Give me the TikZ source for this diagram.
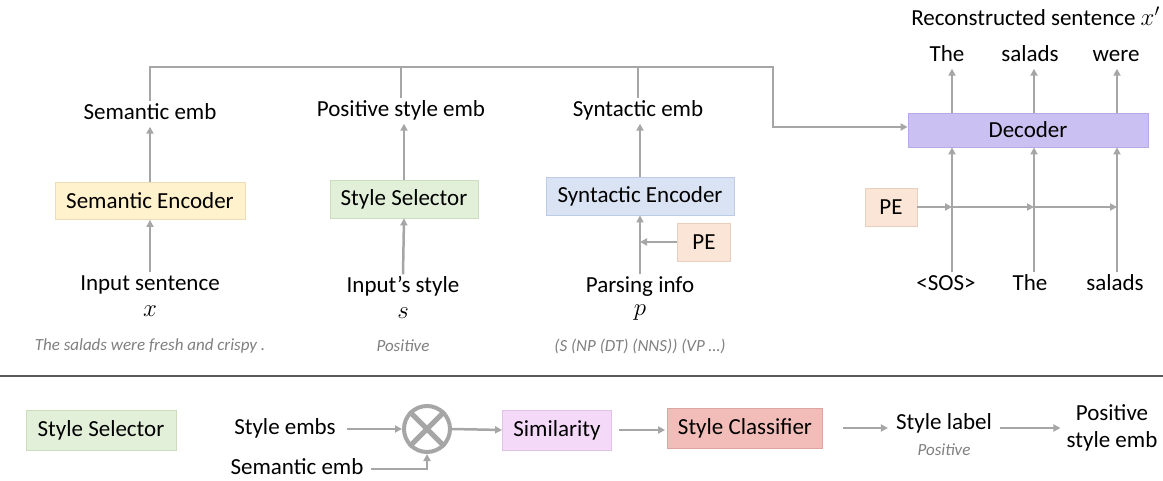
\documentclass[tikz,border=0pt]{standalone}
\usepackage{fontspec}
\setmainfont{Carlito}
\usetikzlibrary{arrows.meta}
\definecolor{ln}{HTML}{A6A6A6}
\definecolor{sep}{HTML}{595959}
\definecolor{gtxt}{HTML}{7F7F7F}
\definecolor{semF}{HTML}{FFF2CC}\definecolor{semD}{HTML}{EADDB8}
\definecolor{selF}{HTML}{E2F0D9}\definecolor{selD}{HTML}{CADDBF}
\definecolor{synF}{HTML}{DAE3F3}\definecolor{synD}{HTML}{BCCBE6}
\definecolor{peF}{HTML}{FBE5D6}\definecolor{peD}{HTML}{E8CFBD}
\definecolor{decF}{HTML}{CBC0F2}\definecolor{decD}{HTML}{B6A9E6}
\definecolor{simF}{HTML}{F4DAF8}\definecolor{simD}{HTML}{E0C2E6}
\definecolor{clsF}{HTML}{F2BDB8}\definecolor{clsD}{HTML}{DDA5A0}
\tikzset{
  txt/.style={font=\fontsize{23}{27}\selectfont, inner sep=2pt, text height=16pt, text depth=5pt},
  mth/.style={font=\fontsize{27}{30}\selectfont, inner sep=2pt},
  gtext/.style={font=\fontsize{17}{20}\selectfont\itshape, text=gtxt, inner sep=2pt},
  box/.style={font=\fontsize{23}{27}\selectfont, inner sep=0pt, line width=0.8pt},
  line/.style={draw=ln, line width=2.5pt},
  arr/.style={line, -{Triangle[length=7pt,width=7pt]}},
}
\begin{document}
\begin{tikzpicture}[x=1pt,y=-1pt]
\useasboundingbox (0,0) rectangle (1163,481);
% ---- top: encoders
\node[box, fill=semF, draw=semD, minimum width=190pt, minimum height=37pt] (semenc) at (150,201) {Semantic Encoder};
\node[box, fill=selF, draw=selD, minimum width=148pt, minimum height=38pt] (sel) at (404,199) {Style Selector};
\node[box, fill=synF, draw=synD, minimum width=188pt, minimum height=38pt] (synenc) at (640,196) {Syntactic Encoder};
\node[box, fill=peF, draw=peD, minimum width=53pt, minimum height=38pt] (pe1) at (704,242) {PE};

\node[txt] (sememb) at (150,114) {Semantic emb};
\node[txt] (posemb) at (401,111) {Positive style emb};
\node[txt] (synemb) at (638,111) {Syntactic emb};

\node[txt] (inp) at (150,285) {Input sentence};
\node[mth] (xv) at (150,311) {$x$};
\node[gtext] (xex) at (150,346) {The salads were fresh and crispy .};
\node[txt] (ist) at (403,287) {Input’s style};
\node[mth] (sv) at (403,313) {$s$};
\node[gtext] (sex) at (403,346) {Positive};
\node[txt] (par) at (640,287) {Parsing info};
\node[mth] (pv) at (640,313) {$p$};
\node[gtext] (pex) at (640,346) {(S (NP (DT) (NNS)) (VP …)};

\draw[arr] (inp.north) -- (semenc.south);
\draw[arr] (semenc.north) -- (sememb.south);
\draw[arr] (ist.north) -- (sel.south);
\draw[arr] (sel.north) -- (posemb.south -| sel.north);
\draw[arr] (par.north) -- (synenc.south);
\draw[arr] (synenc.north) -- (synemb.south -| synenc.north);
\draw[arr] (pe1.west) -- (synenc.south |- pe1.west);

% ---- decoder
\node[box, fill=decF, draw=decD, minimum width=240pt, minimum height=34pt] (dec) at (1028,130) {Decoder};
\coordinate (c1) at (952,0);
\coordinate (c2) at (1034,0);
\coordinate (c3) at (1117,0);
\coordinate (busL) at (150,67);
\coordinate (busR) at (773,67);
\coordinate (busD) at (773,127);
\draw[arr] (sememb.north) -- (busL) -- (busR) -- (busD) -- (dec.west |- busD);
\draw[line] (posemb.north) -- (posemb.north |- busL);
\draw[line] (synemb.north) -- (synemb.north |- busL);

\node[txt, anchor=east] (rec) at (1162,20) {Reconstructed sentence {\fontsize{25}{28}\selectfont$x'$}};
\node[txt] (o1) at (947,56) {The};
\node[txt] (o2) at (1030,56) {salads};
\node[txt] (o3) at (1116,56) {were};
\draw[arr] (dec.north -| c1) -- (o1.south -| c1);
\draw[arr] (dec.north -| c2) -- (o2.south -| c2);
\draw[arr] (dec.north -| c3) -- (o3.south -| c3);

\node[txt] (i1) at (946,285) {\textless SOS\textgreater};
\node[txt] (i2) at (1030,285) {The};
\node[txt] (i3) at (1115,285) {salads};
\draw[arr] (i1.north -| c1) -- (dec.south -| c1);
\draw[arr] (i2.north -| c2) -- (dec.south -| c2);
\draw[arr] (i3.north -| c3) -- (dec.south -| c3);

\node[box, fill=peF, draw=peD, minimum width=52pt, minimum height=38pt] (pe2) at (891,207) {PE};
\draw[arr] (pe2.east) -- (c1 |- pe2.east);
\draw[arr] (c1 |- pe2.east) -- (c2 |- pe2.east);
\draw[arr] (c2 |- pe2.east) -- (c3 |- pe2.east);

% ---- separator
\draw[draw=sep, line width=1.5pt] (0,376) -- (1163,376);

% ---- bottom: style selector detail
\node[box, fill=selF, draw=selD, minimum width=150pt, minimum height=40pt] (sel2) at (101,430) {Style Selector};
\node[txt] (se) at (285,429) {Style embs};
\node[txt] (sme) at (297,469) {Semantic emb};
\node[circle, draw=ln, line width=4pt, minimum size=46pt, inner sep=0pt] (ot) at (427,429) {};
\draw[draw=ln, line width=5pt] (ot.north west) -- (ot.south east);
\draw[draw=ln, line width=5pt] (ot.north east) -- (ot.south west);
\draw[arr, shorten <=9pt] (se.east) -- (ot.west);
\draw[arr, shorten <=5pt] (sme.east) -| (ot.south);
\node[box, fill=simF, draw=simD, minimum width=109pt, minimum height=40pt] (sim) at (557,430) {Similarity};
\draw[arr] (ot.east) -- (sim.west);
\node[box, fill=clsF, draw=clsD, minimum width=155pt, minimum height=40pt] (cls) at (745,428) {Style Classifier};
\draw[arr, shorten <=7pt, shorten >=2pt] (sim.east) -- (cls.west |- sim.east);
\node[txt] (sl) at (944,424) {Style label};
\node[gtext] (slp) at (944,450) {Positive};
\draw[arr, shorten <=20pt, shorten >=6pt] (cls.east) -- (sl.west |- cls.east);
\node[font=\fontsize{23}{27}\selectfont, inner sep=2pt, align=center] (pse) at (1112,428) {Positive\\style emb};
\draw[arr, shorten <=6pt, shorten >=4pt] (sl.east |- pse.west) -- (pse.west);
\end{tikzpicture}
\end{document}
